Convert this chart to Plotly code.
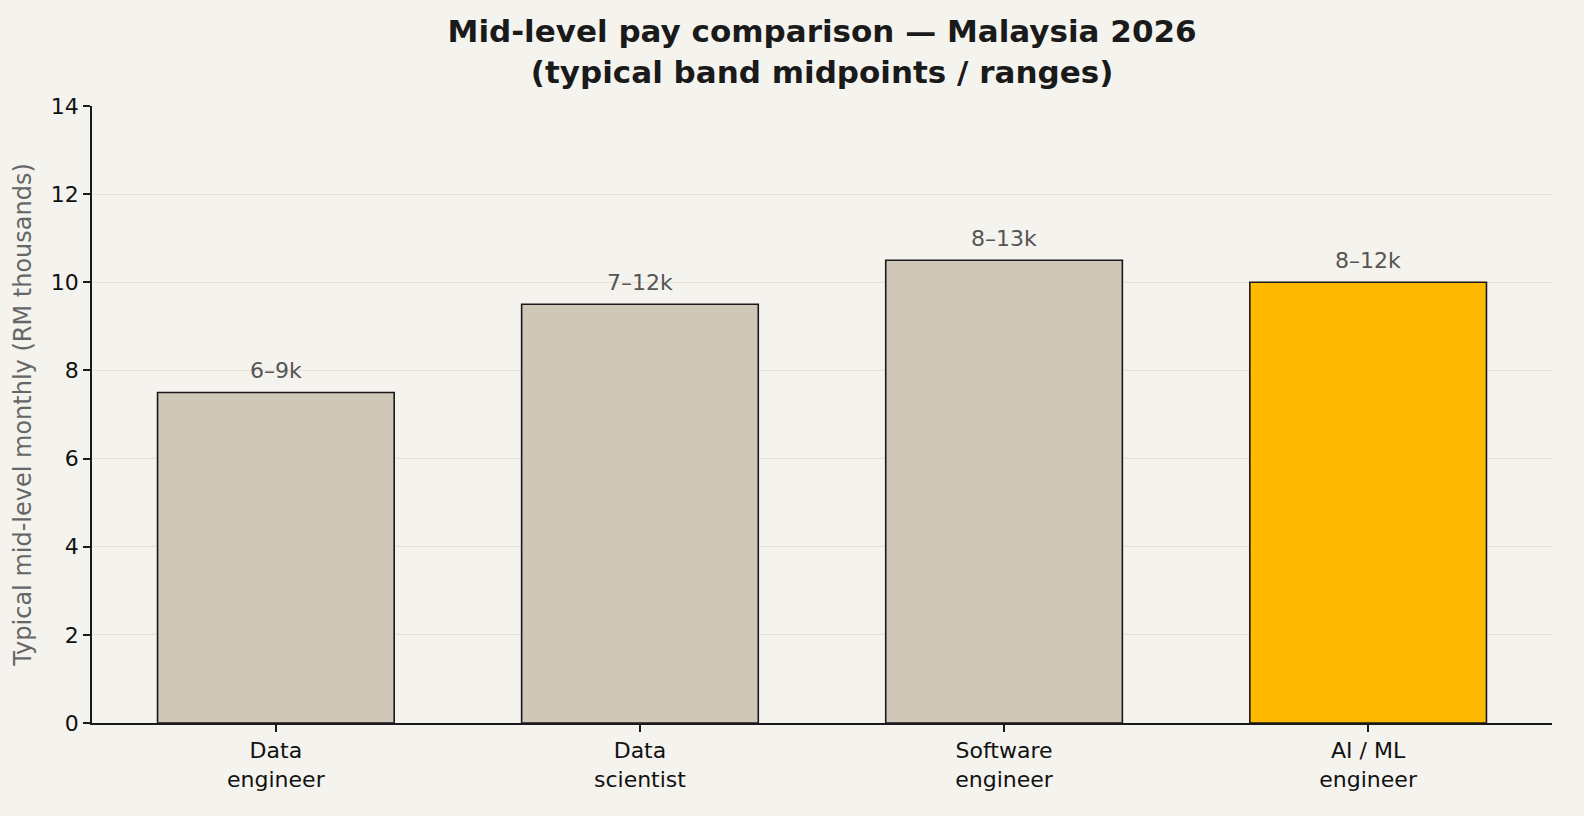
import plotly.graph_objects as go

roles = ["Data<br>engineer", "Data<br>scientist", "Software<br>engineer", "AI / ML<br>engineer"]
midpoints = [7.5, 9.5, 10.5, 10.0]
range_labels = ["6–9k", "7–12k", "8–13k", "8–12k"]
highlight = [False, False, False, True]

BG = "#f5f3ee"
FONT = "DejaVu Sans"

colors = ["#ffb900" if h else "#cfc7b7" for h in highlight]

fig = go.Figure()
fig.add_trace(go.Bar(
    x=list(range(len(roles))),
    y=midpoints,
    width=0.65,
    marker={'color': colors, 'line': {'color': '#1a1a1a', 'width': 1.6}},
    hoverinfo='skip',
))

for i, (v, lab) in enumerate(zip(midpoints, range_labels)):
    fig.add_annotation(x=i, y=v, text=lab, showarrow=False, yshift=22,
                       font={'family': FONT, 'size': 22, 'color': '#555555'})

fig.update_layout(
    width=1584, height=816,
    paper_bgcolor=BG, plot_bgcolor=BG,
    showlegend=False,
    margin={'l': 92, 'r': 32, 't': 106, 'b': 93},
    title={'text': "<b>Mid-level pay comparison — Malaysia 2026<br>(typical band midpoints / ranges)</b>",
           'x': 0.519, 'xanchor': 'center', 'y': 0.948, 'yanchor': 'top',
           'font': {'family': FONT, 'size': 31, 'color': '#1a1a1a'}},
    font={'family': FONT, 'size': 22, 'color': '#111111'},
)
fig.update_xaxes(
    range=[-0.505, 3.505], tickvals=list(range(len(roles))), ticktext=roles,
    showline=True, linecolor='#1a1a1a', linewidth=1.5,
    ticks='outside', ticklen=7, tickcolor='#1a1a1a', tickwidth=1.5,
    showgrid=False, zeroline=False,
    tickfont={'family': FONT, 'size': 22, 'color': '#111111'},
)
fig.update_yaxes(
    range=[0, 14], tickvals=[0, 2, 4, 6, 8, 10, 12, 14],
    showline=True, linecolor='#1a1a1a', linewidth=1.5,
    ticks='outside', ticklen=7, tickcolor='#1a1a1a', tickwidth=1.5,
    showgrid=True, gridcolor='#e6e0d6', gridwidth=1.2,
    zeroline=False, layer='above traces',
    tickfont={'family': FONT, 'size': 22, 'color': '#111111'},
    title={'text': "Typical mid-level monthly (RM thousands)", 'standoff': 12,
           'font': {'family': FONT, 'size': 24, 'color': '#666666'}},
)

page_css = ("document.documentElement.style.margin='0';"
            "document.body.style.margin='0';"
            "document.documentElement.style.overflow='hidden';"
            "document.body.style.overflow='hidden';")
fig.write_html("out.html", config={'displayModeBar': False}, post_script=page_css)
